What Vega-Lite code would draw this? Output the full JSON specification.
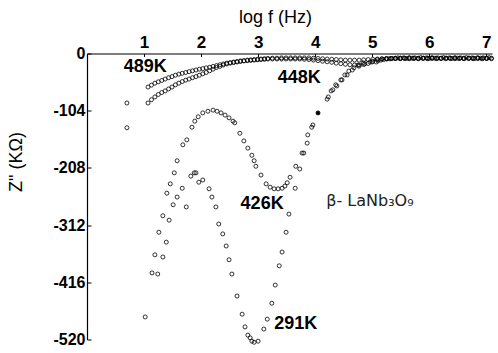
{
  "$schema": "https://vega.github.io/schema/vega-lite/v6.json",
  "autosize": "none",
  "width": 405,
  "height": 286,
  "padding": {"left": 87, "top": 53.5, "right": 6, "bottom": 13.5},
  "background": "white",
  "config": {
    "view": {"stroke": null},
    "font": "Liberation Sans",
    "axis": {"grid": false, "domainColor": "black", "domainWidth": 1.2, "tickColor": "black", "labelColor": "black", "titleColor": "black", "labelFont": "Liberation Sans", "titleFont": "Liberation Sans"}
  },
  "datasets": {
    "pts": [
      {"t":"489K","f":0.70,"z":-90},
      {"t":"489K","f":1.07,"z":-61},{"t":"489K","f":1.13,"z":-57.5},{"t":"489K","f":1.19,"z":-54},{"t":"489K","f":1.25,"z":-51.5},{"t":"489K","f":1.31,"z":-49},{"t":"489K","f":1.37,"z":-46.5},{"t":"489K","f":1.43,"z":-44},{"t":"489K","f":1.49,"z":-42},{"t":"489K","f":1.55,"z":-39.5},{"t":"489K","f":1.61,"z":-37.5},{"t":"489K","f":1.67,"z":-36},{"t":"489K","f":1.73,"z":-34.5},{"t":"489K","f":1.79,"z":-33},{"t":"489K","f":1.85,"z":-31.5},{"t":"489K","f":1.91,"z":-30},{"t":"489K","f":1.97,"z":-28.5},{"t":"489K","f":2.03,"z":-27.5},{"t":"489K","f":2.09,"z":-26},{"t":"489K","f":2.15,"z":-25},{"t":"489K","f":2.21,"z":-23.5},{"t":"489K","f":2.27,"z":-22},{"t":"489K","f":2.33,"z":-20.5},{"t":"489K","f":2.39,"z":-19},{"t":"489K","f":2.45,"z":-17.5},{"t":"489K","f":2.51,"z":-16.5},{"t":"489K","f":2.57,"z":-15.5},{"t":"489K","f":2.63,"z":-14.5},{"t":"489K","f":2.69,"z":-13.5},{"t":"489K","f":2.75,"z":-13},{"t":"489K","f":2.81,"z":-12},{"t":"489K","f":2.87,"z":-11.5},{"t":"489K","f":2.93,"z":-11},{"t":"489K","f":2.99,"z":-10.5},{"t":"489K","f":3.05,"z":-10},{"t":"489K","f":3.11,"z":-9.5},{"t":"489K","f":3.17,"z":-9},
      {"t":"489K","f":3.25,"z":-8.5},{"t":"489K","f":3.33,"z":-8.5},{"t":"489K","f":3.41,"z":-8},{"t":"489K","f":3.49,"z":-8},{"t":"489K","f":3.57,"z":-8},{"t":"489K","f":3.65,"z":-8},{"t":"489K","f":3.73,"z":-8},{"t":"489K","f":3.81,"z":-8},{"t":"489K","f":3.89,"z":-8},{"t":"489K","f":3.97,"z":-8.5},{"t":"489K","f":4.05,"z":-9},{"t":"489K","f":4.13,"z":-9.5},{"t":"489K","f":4.21,"z":-10},{"t":"489K","f":4.29,"z":-10.5},{"t":"489K","f":4.37,"z":-11},{"t":"489K","f":4.45,"z":-11.5},{"t":"489K","f":4.53,"z":-12},{"t":"489K","f":4.61,"z":-12},{"t":"489K","f":4.69,"z":-12},{"t":"489K","f":4.77,"z":-12},{"t":"489K","f":4.85,"z":-11.5},{"t":"489K","f":4.93,"z":-11},{"t":"489K","f":5.01,"z":-10.5},{"t":"489K","f":5.09,"z":-10},{"t":"489K","f":5.17,"z":-9.5},{"t":"489K","f":5.25,"z":-9},{"t":"489K","f":5.33,"z":-9},{"t":"489K","f":5.41,"z":-8.5},{"t":"489K","f":5.49,"z":-8.5},{"t":"489K","f":5.57,"z":-8.5},{"t":"489K","f":5.65,"z":-8.5},{"t":"489K","f":5.73,"z":-8.5},{"t":"489K","f":5.81,"z":-8.5},{"t":"489K","f":5.89,"z":-8.5},{"t":"489K","f":5.97,"z":-8.5},{"t":"489K","f":6.05,"z":-8.5},{"t":"489K","f":6.13,"z":-8.5},{"t":"489K","f":6.21,"z":-8.5},{"t":"489K","f":6.29,"z":-8.5},{"t":"489K","f":6.37,"z":-8.5},{"t":"489K","f":6.45,"z":-8.5},{"t":"489K","f":6.53,"z":-8.5},{"t":"489K","f":6.61,"z":-8.5},{"t":"489K","f":6.69,"z":-8.5},{"t":"489K","f":6.77,"z":-8.5},{"t":"489K","f":6.85,"z":-8.5},{"t":"489K","f":6.93,"z":-8.5},{"t":"489K","f":7.01,"z":-8.5},{"t":"489K","f":7.09,"z":-8.5},
      {"t":"448K","f":0.70,"z":-135},
      {"t":"448K","f":1.07,"z":-90},{"t":"448K","f":1.13,"z":-84},{"t":"448K","f":1.19,"z":-79},{"t":"448K","f":1.25,"z":-74.5},{"t":"448K","f":1.31,"z":-71},{"t":"448K","f":1.37,"z":-68},{"t":"448K","f":1.43,"z":-64.5},{"t":"448K","f":1.49,"z":-61},{"t":"448K","f":1.55,"z":-57},{"t":"448K","f":1.61,"z":-54},{"t":"448K","f":1.67,"z":-51},{"t":"448K","f":1.73,"z":-48.5},{"t":"448K","f":1.79,"z":-46.5},{"t":"448K","f":1.85,"z":-44},{"t":"448K","f":1.91,"z":-42},{"t":"448K","f":1.97,"z":-39.5},{"t":"448K","f":2.03,"z":-37},{"t":"448K","f":2.09,"z":-34.5},{"t":"448K","f":2.15,"z":-31.5},{"t":"448K","f":2.21,"z":-28.5},{"t":"448K","f":2.27,"z":-25.5},{"t":"448K","f":2.33,"z":-23.5},{"t":"448K","f":2.39,"z":-21},{"t":"448K","f":2.45,"z":-19},{"t":"448K","f":2.51,"z":-17.5},{"t":"448K","f":2.57,"z":-16.5},{"t":"448K","f":2.63,"z":-15.5},{"t":"448K","f":2.69,"z":-14.5},{"t":"448K","f":2.75,"z":-13.5},{"t":"448K","f":2.81,"z":-13},{"t":"448K","f":2.87,"z":-12.5},{"t":"448K","f":2.93,"z":-12},{"t":"448K","f":2.99,"z":-11.5},{"t":"448K","f":3.05,"z":-11},{"t":"448K","f":3.11,"z":-10.5},{"t":"448K","f":3.17,"z":-10},
      {"t":"448K","f":3.25,"z":-10},{"t":"448K","f":3.33,"z":-10},{"t":"448K","f":3.41,"z":-10},{"t":"448K","f":3.49,"z":-10},{"t":"448K","f":3.57,"z":-10},{"t":"448K","f":3.65,"z":-10},{"t":"448K","f":3.73,"z":-10},{"t":"448K","f":3.81,"z":-10.5},{"t":"448K","f":3.89,"z":-11},{"t":"448K","f":3.97,"z":-12},{"t":"448K","f":4.05,"z":-13},{"t":"448K","f":4.13,"z":-14},{"t":"448K","f":4.21,"z":-15},{"t":"448K","f":4.29,"z":-16},{"t":"448K","f":4.37,"z":-17.5},{"t":"448K","f":4.45,"z":-18.5},{"t":"448K","f":4.53,"z":-19.5},{"t":"448K","f":4.61,"z":-20.5},{"t":"448K","f":4.69,"z":-21},{"t":"448K","f":4.77,"z":-21},{"t":"448K","f":4.85,"z":-20},{"t":"448K","f":4.93,"z":-18},{"t":"448K","f":5.01,"z":-14},{"t":"448K","f":5.09,"z":-11},{"t":"448K","f":5.17,"z":-10},{"t":"448K","f":5.25,"z":-9.5},{"t":"448K","f":5.33,"z":-9.5},{"t":"448K","f":5.41,"z":-9},{"t":"448K","f":5.49,"z":-9.5},{"t":"448K","f":5.57,"z":-9},{"t":"448K","f":5.65,"z":-9.5},{"t":"448K","f":5.73,"z":-9},{"t":"448K","f":5.81,"z":-9.5},{"t":"448K","f":5.89,"z":-9},{"t":"448K","f":5.97,"z":-9.5},{"t":"448K","f":6.05,"z":-9},{"t":"448K","f":6.13,"z":-9.5},{"t":"448K","f":6.21,"z":-9},{"t":"448K","f":6.29,"z":-9.5},{"t":"448K","f":6.37,"z":-9},{"t":"448K","f":6.45,"z":-9.5},{"t":"448K","f":6.53,"z":-9},{"t":"448K","f":6.61,"z":-9.5},{"t":"448K","f":6.69,"z":-9},{"t":"448K","f":6.77,"z":-9.5},{"t":"448K","f":6.85,"z":-9},{"t":"448K","f":6.93,"z":-9.5},{"t":"448K","f":7.01,"z":-9},{"t":"448K","f":7.09,"z":-9.5},
      {"t":"426K","f":1.02,"z":-479},{"t":"426K","f":1.14,"z":-399},{"t":"426K","f":1.19,"z":-366},{"t":"426K","f":1.26,"z":-325},{"t":"426K","f":1.33,"z":-295},{"t":"426K","f":1.40,"z":-254},{"t":"426K","f":1.46,"z":-237},{"t":"426K","f":1.53,"z":-217},{"t":"426K","f":1.58,"z":-195},{"t":"426K","f":1.68,"z":-166},{"t":"426K","f":1.75,"z":-157},{"t":"426K","f":1.84,"z":-134},{"t":"426K","f":1.89,"z":-123},{"t":"426K","f":1.95,"z":-115},{"t":"426K","f":2.03,"z":-108},{"t":"426K","f":2.12,"z":-105},{"t":"426K","f":2.21,"z":-103},{"t":"426K","f":2.28,"z":-105},{"t":"426K","f":2.35,"z":-108},{"t":"426K","f":2.42,"z":-112},{"t":"426K","f":2.49,"z":-117},{"t":"426K","f":2.56,"z":-123},{"t":"426K","f":2.59,"z":-126},{"t":"426K","f":2.68,"z":-145},{"t":"426K","f":2.75,"z":-159},{"t":"426K","f":2.82,"z":-172},{"t":"426K","f":2.89,"z":-185},{"t":"426K","f":2.93,"z":-195},{"t":"426K","f":2.96,"z":-205},{"t":"426K","f":3.05,"z":-221},{"t":"426K","f":3.14,"z":-237},{"t":"426K","f":3.21,"z":-243},{"t":"426K","f":3.28,"z":-246},{"t":"426K","f":3.35,"z":-246},{"t":"426K","f":3.42,"z":-245},{"t":"426K","f":3.47,"z":-241},{"t":"426K","f":3.51,"z":-235},{"t":"426K","f":3.56,"z":-225},{"t":"426K","f":3.66,"z":-205},{"t":"426K","f":3.77,"z":-181},{"t":"426K","f":3.86,"z":-163},{"t":"426K","f":3.94,"z":-134},{"t":"426K","f":4.05,"z":-108},{"t":"426K","f":4.23,"z":-79},{"t":"426K","f":4.31,"z":-66},{"t":"426K","f":4.38,"z":-59},{"t":"426K","f":4.47,"z":-48},{"t":"426K","f":4.56,"z":-39},{"t":"426K","f":4.65,"z":-30},{"t":"426K","f":4.75,"z":-21},{"t":"426K","f":4.84,"z":-17},{"t":"426K","f":4.96,"z":-15.5},{"t":"426K","f":5.07,"z":-15.5},{"t":"426K","f":5.15,"z":-12},{"t":"426K","f":5.25,"z":-10},{"t":"426K","f":5.35,"z":-9},{"t":"426K","f":5.45,"z":-8},{"t":"426K","f":5.55,"z":-8},{"t":"426K","f":5.65,"z":-7.5},{"t":"426K","f":5.75,"z":-8},{"t":"426K","f":5.85,"z":-7.5},{"t":"426K","f":5.95,"z":-8},{"t":"426K","f":6.05,"z":-7.5},{"t":"426K","f":6.15,"z":-8},{"t":"426K","f":6.25,"z":-7.5},{"t":"426K","f":6.35,"z":-8},{"t":"426K","f":6.45,"z":-7.5},{"t":"426K","f":6.55,"z":-8},{"t":"426K","f":6.65,"z":-7.5},{"t":"426K","f":6.75,"z":-8},{"t":"426K","f":6.85,"z":-7.5},{"t":"426K","f":6.95,"z":-8},{"t":"426K","f":7.05,"z":-7.5},
      {"t":"291K","f":1.24,"z":-401},{"t":"291K","f":1.33,"z":-370},{"t":"291K","f":1.39,"z":-343},{"t":"291K","f":1.44,"z":-303},{"t":"291K","f":1.51,"z":-275},{"t":"291K","f":1.58,"z":-261},{"t":"291K","f":1.67,"z":-245},{"t":"291K","f":1.74,"z":-279},{"t":"291K","f":1.82,"z":-223},{"t":"291K","f":1.88,"z":-217},{"t":"291K","f":1.91,"z":-217},{"t":"291K","f":1.96,"z":-234},{"t":"291K","f":2.03,"z":-230},{"t":"291K","f":2.14,"z":-246},{"t":"291K","f":2.19,"z":-261},{"t":"291K","f":2.26,"z":-279},{"t":"291K","f":2.31,"z":-310},{"t":"291K","f":2.38,"z":-328},{"t":"291K","f":2.44,"z":-350},{"t":"291K","f":2.49,"z":-375},{"t":"291K","f":2.54,"z":-401},{"t":"291K","f":2.63,"z":-441},{"t":"291K","f":2.72,"z":-474},{"t":"291K","f":2.77,"z":-497},{"t":"291K","f":2.82,"z":-512},{"t":"291K","f":2.86,"z":-517},{"t":"291K","f":2.89,"z":-523},{"t":"291K","f":2.93,"z":-525},{"t":"291K","f":3.00,"z":-523},{"t":"291K","f":3.10,"z":-501},{"t":"291K","f":3.16,"z":-483},{"t":"291K","f":3.24,"z":-454},{"t":"291K","f":3.30,"z":-421},{"t":"291K","f":3.37,"z":-386},{"t":"291K","f":3.42,"z":-361},{"t":"291K","f":3.49,"z":-325},{"t":"291K","f":3.54,"z":-292},{"t":"291K","f":3.65,"z":-245},{"t":"291K","f":3.73,"z":-210},{"t":"291K","f":3.80,"z":-181},{"t":"291K","f":3.87,"z":-148},{"t":"291K","f":3.96,"z":-130},{"t":"291K","f":4.21,"z":-83},{"t":"291K","f":4.28,"z":-68},{"t":"291K","f":4.36,"z":-57},{"t":"291K","f":4.45,"z":-48},{"t":"291K","f":4.52,"z":-39},{"t":"291K","f":4.59,"z":-32},{"t":"291K","f":4.68,"z":-26},{"t":"291K","f":4.77,"z":-23},{"t":"291K","f":4.87,"z":-19},{"t":"291K","f":5.00,"z":-15.5},{"t":"291K","f":5.10,"z":-13.5},{"t":"291K","f":5.20,"z":-11},{"t":"291K","f":5.30,"z":-9.5},{"t":"291K","f":5.40,"z":-9},{"t":"291K","f":5.50,"z":-8.5},{"t":"291K","f":5.60,"z":-9},{"t":"291K","f":5.70,"z":-8.5},{"t":"291K","f":5.80,"z":-9},{"t":"291K","f":5.90,"z":-8.5},{"t":"291K","f":6.00,"z":-9},{"t":"291K","f":6.10,"z":-8.5},{"t":"291K","f":6.20,"z":-9},{"t":"291K","f":6.30,"z":-8.5},{"t":"291K","f":6.40,"z":-9},{"t":"291K","f":6.50,"z":-8.5},{"t":"291K","f":6.60,"z":-9},{"t":"291K","f":6.70,"z":-8.5},{"t":"291K","f":6.80,"z":-9},{"t":"291K","f":6.90,"z":-8.5},{"t":"291K","f":7.00,"z":-9}
    ],
    "ann": [
      {"label":"489K","f":1.02,"z":-24},
      {"label":"448K","f":3.72,"z":-44},
      {"label":"426K","f":3.07,"z":-274},
      {"label":"291K","f":3.66,"z":-492},
      {"label":"β- LaNb₃O₉","f":4.96,"z":-268}
    ]
  },
  "layer": [
    {
      "data": {"name": "pts"},
      "mark": {"type": "point", "shape": "circle", "filled": false, "stroke": "black", "strokeWidth": 0.8, "size": 16, "opacity": 1},
      "encoding": {
        "x": {"field": "f", "type": "quantitative", "scale": {"domain": [0, 7.1], "nice": false, "zero": false},
          "axis": {"orient": "top", "values": [1,2,3,4,5,6,7], "format": "d", "title": "log f (Hz)", "titleFontSize": 18, "titleFontWeight": "normal", "titleX": 188, "titleY": -31, "titleBaseline": "alphabetic", "labelFontSize": 17, "labelFontWeight": "bold", "labelPadding": 5, "tickSize": -3}},
        "y": {"field": "z", "type": "quantitative", "scale": {"domain": [-520, 0], "nice": false, "zero": false},
          "axis": {"values": [0,-52,-104,-156,-208,-260,-312,-364,-416,-468,-520], "labelExpr": "datum.value % 104 == 0 ? (datum.value == 0 ? '0' : '-' + abs(datum.value)) : ''", "title": "Z\" (KΩ)", "titleFontSize": 18, "titleFontWeight": "normal", "titleX": -62, "titleY": 108, "labelFontSize": 16, "labelFontWeight": "bold", "labelPadding": 6, "tickSize": -4}}
      }
    },
    {
      "data": {"name": "pts"},
      "transform": [{"filter": "datum.t == '426K' && datum.f == 4.05"}],
      "mark": {"type": "point", "shape": "circle", "filled": true, "color": "black", "size": 16, "opacity": 1},
      "encoding": {
        "x": {"field": "f", "type": "quantitative"},
        "y": {"field": "z", "type": "quantitative"}
      }
    },
    {
      "data": {"name": "ann"},
      "transform": [{"filter": "datum.label != 'β- LaNb₃O₉'"}],
      "mark": {"type": "text", "fontSize": 18, "fontWeight": "bold", "font": "Liberation Sans", "color": "black", "baseline": "middle", "align": "center"},
      "encoding": {
        "x": {"field": "f", "type": "quantitative"},
        "y": {"field": "z", "type": "quantitative"},
        "text": {"field": "label"}
      }
    },
    {
      "data": {"name": "ann"},
      "transform": [{"filter": "datum.label == 'β- LaNb₃O₉'"}],
      "mark": {"type": "text", "fontSize": 16, "fontWeight": "normal", "font": "DejaVu Sans", "color": "#222", "baseline": "middle", "align": "center"},
      "encoding": {
        "x": {"field": "f", "type": "quantitative"},
        "y": {"field": "z", "type": "quantitative"},
        "text": {"field": "label"}
      }
    }
  ]
}
